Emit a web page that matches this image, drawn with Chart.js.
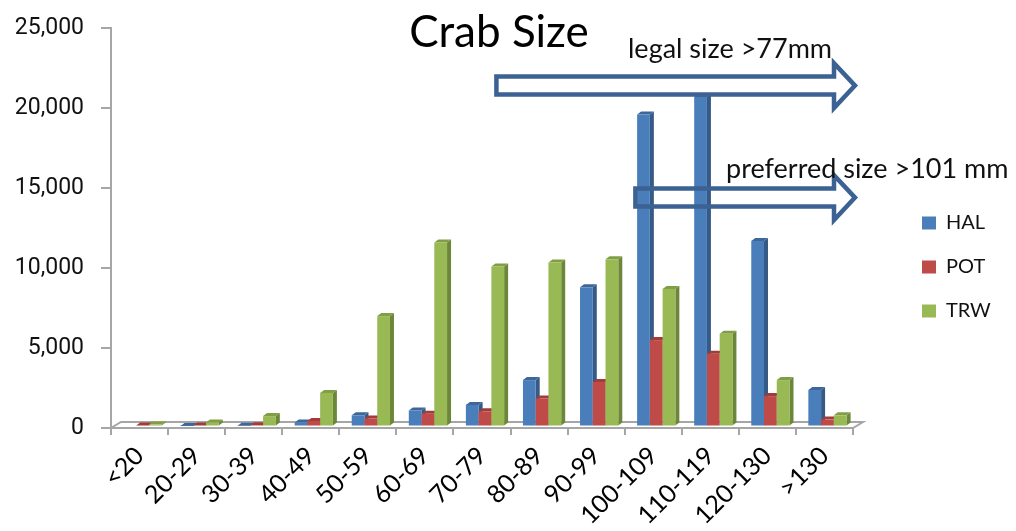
<!DOCTYPE html>
<html><head><meta charset="utf-8">
<script src="https://cdn.jsdelivr.net/npm/chart.js@4.4.1/dist/chart.umd.min.js"></script>
<style>html,body{margin:0;padding:0;background:#fff;}#wrap{width:1016px;height:531px;position:relative;}</style>
</head><body><div id="wrap"><canvas id="c" width="1016" height="531"></canvas></div>
<script>
const categories = ['<20','20-29','30-39','40-49','50-59','60-69','70-79','80-89','90-99','100-109','110-119','120-130','>130'];
const halValues = [0, 30, 40, 250, 700, 1000, 1350, 2900, 8700, 19500, 20600, 11600, 2280];
const potValues = [60, 60, 80, 350, 500, 800, 950, 1750, 2780, 5400, 4550, 1900, 430];
const trwValues = [120, 250, 650, 2100, 6900, 11500, 10000, 10250, 10450, 8600, 5800, 2900, 700];
const seriesNames = ['HAL', 'POT', 'TRW'];
const yTickValues = [0, 5000, 10000, 15000, 20000, 25000];
const chartTitle = 'Crab Size';
const legalNote = 'legal size >77mm';
const preferredNote = 'preferred size >101 mm';
const legalMm = 77, preferredMm = 101;
const legalArrowLevel = 21400, preferredArrowLevel = 14400;

const FONT = 'Lato, "Open Sans", sans-serif';
const shades = [
  {front:'#4a7ebb', top:'#3d6699', side:'#365a86'},
  {front:'#be4b48', top:'#a13c3a', side:'#8c3532'},
  {front:'#98b954', top:'#819e45', side:'#6c873a'}
];

function mmToPixel(xs, mm) {
  const idx = (mm - 20) / 10 + 1;
  const i = Math.floor(idx), f = idx - i;
  const w = xs.getPixelForValue(1) - xs.getPixelForValue(0);
  return xs.getPixelForValue(i) - w / 2 + f * w;
}

const bar3d = {
  id: 'bar3d',
  beforeDatasetsDraw(chart) {
    const ctx = chart.ctx, ca = chart.chartArea;
    const y0 = chart.scales.y.getPixelForValue(0);
    const dx = 10, dy = 6;
    ctx.save();
    ctx.strokeStyle = '#a6a6a6'; ctx.lineWidth = 2;
    ctx.beginPath();
    ctx.moveTo(ca.left, y0); ctx.lineTo(ca.right, y0);
    ctx.lineTo(ca.right + dx, y0 - dy); ctx.lineTo(ca.left + dx, y0 - dy);
    ctx.closePath(); ctx.stroke();
    ctx.restore();
  },
  beforeDatasetDraw() { return false; },
  afterDatasetsDraw(chart) {
    const ctx = chart.ctx;
    const dx = 4, dy = 3, shift = 3, lift = 1.5;
    ctx.save();
    for (let i = 0; i < categories.length; i++) {
      chart.data.datasets.forEach((ds, di) => {
        if (!(ds.data[i] > 0)) return;
        const el = chart.getDatasetMeta(di).data[i];
        const p = el.getProps(['x','y','base','width'], true);
        const l = p.x - p.width / 2 + shift, r = p.x + p.width / 2 + shift;
        const t = p.y - lift, b = p.base - lift;
        const s = shades[di];
        ctx.fillStyle = s.side;
        ctx.beginPath(); ctx.moveTo(r, t); ctx.lineTo(r + dx, t - dy); ctx.lineTo(r + dx, b - dy); ctx.lineTo(r, b); ctx.closePath(); ctx.fill();
        ctx.fillStyle = s.top;
        ctx.beginPath(); ctx.moveTo(l, t); ctx.lineTo(l + dx, t - dy); ctx.lineTo(r + dx, t - dy); ctx.lineTo(r, t); ctx.closePath(); ctx.fill();
        ctx.fillStyle = s.front;
        ctx.fillRect(l, t, r - l, b - t);
      });
    }
    ctx.restore();
  }
};

function drawArrow(ctx, x0, x1, yc) {
  const h = 9, H = 22.5, L = 21;
  ctx.beginPath();
  ctx.moveTo(x0, yc - h); ctx.lineTo(x1 - L, yc - h); ctx.lineTo(x1 - L, yc - H);
  ctx.lineTo(x1, yc); ctx.lineTo(x1 - L, yc + H); ctx.lineTo(x1 - L, yc + h);
  ctx.lineTo(x0, yc + h); ctx.closePath();
  ctx.stroke();
}

const overlay = {
  id: 'overlay',
  afterDraw(chart) {
    const ctx = chart.ctx, xs = chart.scales.x, ys = chart.scales.y, ca = chart.chartArea;
    ctx.save();
    ctx.fillStyle = '#000';
    ctx.font = '44px ' + FONT;
    ctx.textAlign = 'center'; ctx.textBaseline = 'alphabetic';
    ctx.fillText(chartTitle, 499, 47);
    ctx.strokeStyle = '#3b6293'; ctx.lineWidth = 4.5; ctx.lineJoin = 'miter';
    const tipX = ca.right + 2;
    drawArrow(ctx, mmToPixel(xs, legalMm) + 3, tipX, ys.getPixelForValue(legalArrowLevel));
    drawArrow(ctx, mmToPixel(xs, preferredMm) + 5, tipX, ys.getPixelForValue(preferredArrowLevel));
    ctx.fillStyle = '#111';
    ctx.font = '27px ' + FONT;
    ctx.textAlign = 'left';
    ctx.fillText(legalNote, 628, 58);
    ctx.fillText(preferredNote, 726, 178);
    ctx.restore();
  }
};

new Chart(document.getElementById('c'), {
  type: 'bar',
  data: {
    labels: categories,
    datasets: [
      {label: seriesNames[0], data: halValues, backgroundColor: shades[0].front, borderWidth: 0},
      {label: seriesNames[1], data: potValues, backgroundColor: shades[1].front, borderWidth: 0},
      {label: seriesNames[2], data: trwValues, backgroundColor: shades[2].front, borderWidth: 0}
    ]
  },
  options: {
    responsive: false,
    animation: false,
    devicePixelRatio: 1,
    layout: {padding: {top: 3, right: 18, bottom: 0, left: 0}},
    datasets: {bar: {categoryPercentage: 0.67, barPercentage: 1.0}},
    plugins: {
      title: {display: false},
      tooltip: {enabled: false},
      legend: {
        position: 'right',
        align: 'center',
        maxWidth: 100,
        labels: {boxWidth: 14, boxHeight: 13, padding: 24, color: '#111', font: {family: FONT, size: 20}}
      }
    },
    scales: {
      x: {
        grid: {display: true, offset: true, drawOnChartArea: false, drawTicks: true, tickLength: 7, color: '#a6a6a6', lineWidth: 2},
        border: {display: false},
        ticks: {minRotation: 45, maxRotation: 45, autoSkip: false, padding: 6, color: '#000', font: {family: FONT, size: 25}},
        afterFit: s => { s.height = 103; }
      },
      y: {
        min: 0, max: 25000,
        afterBuildTicks: s => { s.ticks = yTickValues.map(v => ({value: v})); },
        grid: {drawOnChartArea: false, drawTicks: true, tickLength: 10, color: '#a6a6a6', lineWidth: 2},
        border: {display: true, color: '#a6a6a6', width: 2},
        ticks: {padding: 17, color: '#111', font: {family: 'Roboto, sans-serif', size: 23, lineHeight: 0.957}, callback: v => Number(v).toLocaleString('en-US')},
        afterFit: s => { s.width = 111; }
      },
      yR: {
        type: 'linear', position: 'right', display: true,
        grid: {display: false}, border: {display: false}, ticks: {display: false},
        afterFit: s => { s.width = 45; }
      }
    }
  },
  plugins: [bar3d, overlay]
});
</script>
</body></html>
